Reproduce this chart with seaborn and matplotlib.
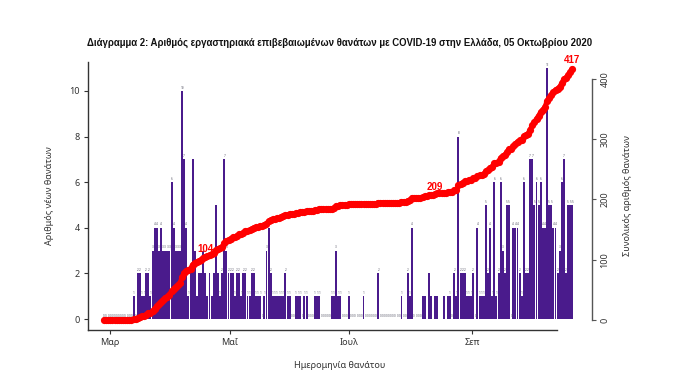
import numpy as np
import pandas as pd
import matplotlib
matplotlib.use("Agg")
import matplotlib.pyplot as plt
import seaborn as sns

# ---------------- data ----------------
start_date = "2020-02-26"
daily_deaths = [
    0, 0, 0, 0, 0, 0, 0, 0, 0, 0,
    0, 0, 0, 0, 1, 0, 2, 2, 1, 1,
    2, 2, 1, 3, 4, 4, 3, 4, 3, 3,
    3, 3, 6, 4, 3, 3, 3, 10, 7, 4,
    1, 2, 7, 3, 1, 2, 2, 3, 2, 1,
    2, 1, 2, 5, 2, 1, 2, 7, 3, 2,
    2, 2, 1, 2, 2, 1, 2, 2, 1, 1,
    2, 2, 1, 1, 1, 0, 1, 3, 4, 2,
    1, 1, 1, 1, 1, 1, 2, 1, 1, 0,
    0, 1, 1, 1, 0, 1, 1, 0, 0, 0,
    1, 1, 1, 0, 0, 0, 0, 0, 1, 1,
    3, 1, 1, 0, 0, 0, 1, 0, 0, 0,
    0, 0, 0, 1, 0, 0, 0, 0, 0, 0,
    2, 0, 0, 0, 0, 0, 0, 0, 0, 0,
    0, 1, 0, 0, 2, 1, 4, 0, 0, 0,
    0, 1, 1, 0, 2, 1, 0, 1, 1, 0,
    0, 1, 0, 1, 1, 0, 2, 1, 8, 2,
    2, 2, 1, 1, 1, 2, 0, 4, 1, 1,
    1, 5, 2, 4, 1, 6, 1, 2, 6, 3,
    2, 5, 5, 0, 4, 4, 4, 2, 1, 6,
    2, 2, 7, 7, 5, 6, 5, 6, 4, 4,
    11, 5, 5, 4, 4, 2, 3, 6, 7, 2,
    5, 5, 5,
]
month_labels = ["Μαρ", "Μαΐ", "Ιουλ", "Σεπ"]
month_tick_pos = [2.8, 59.7, 116.1, 174.4]
left_ticks = [0, 2, 4, 6, 8, 10]
right_ticks = [0, 100, 200, 300, 400]
marked_totals = [104, 209]

title = ("Διάγραμμα 2: Αριθμός εργαστηριακά επιβεβαιωμένων θανάτων "
         "με COVID-19 στην Ελλάδα, 05 Οκτωβρίου 2020")
xlabel = "Ημερομηνία θανάτου"
ylabel_left = "Αριθμός νέων θανάτων"
ylabel_right = "Συνολικός αριθμός θανάτων"

# ---------------- frame ----------------
df = pd.DataFrame({"day": np.arange(len(daily_deaths)),
                   "deaths": daily_deaths})
df["date"] = pd.date_range(start_date, periods=len(df), freq="D")
df["total"] = df["deaths"].cumsum()

sns.set_theme(style="white")
plt.rcParams["font.family"] = ["Noto Sans", "DejaVu Sans"]

BAR = "#4A1B8C"
RED = "#FF0000"
AX = "#333333"

fig = plt.figure(figsize=(6.8, 3.84), dpi=100)
ax = fig.add_axes([88 / 680, 1 - 330 / 384, (592 - 88) / 680, (330 - 62) / 384])

sns.barplot(data=df, x="day", y="deaths", native_scale=True, color=BAR,
            saturation=1, width=0.92, errorbar=None, linewidth=0,
            edgecolor="none", ax=ax)

# days whose big red label sits where a tiny value label would be
marked_days = [int(df.index[df["total"] >= v][0]) for v in marked_totals]
for d, v in zip(df["day"], df["deaths"]):
    if any(abs(d - m) <= 6 for m in marked_days):
        continue
    ax.text(d, v + 0.06, str(v), fontsize=2.2, ha="center", va="bottom",
            color="#555566")

ax.set_xlim(-7.6, 231.3)
ax.set_ylim(-0.48, 11.27)
ax.set_yticks(left_ticks)
ax.set_yticklabels([str(t) for t in left_ticks], fontsize=6.5, color=AX)
ax.set_xticks(month_tick_pos)
ax.set_xticklabels(month_labels, fontsize=6.5, color=AX)
ax.tick_params(axis="both", which="both", bottom=True, left=True,
               length=3, width=0.8, color=AX, pad=3)
ax.set_xlabel(xlabel, fontsize=6.5, color=AX, labelpad=10)
ax.set_ylabel(ylabel_left, fontsize=6.5, color=AX, labelpad=11)
for s in ["top", "right"]:
    ax.spines[s].set_visible(False)
for s in ["left", "bottom"]:
    ax.spines[s].set_color(AX)
    ax.spines[s].set_linewidth(1.0)
ax.spines["bottom"].set_bounds(-7.6, 214.7)

ax2 = ax.twinx()
sns.lineplot(data=df, x="day", y="total", ax=ax2, color=RED, linewidth=3.6,
             marker="o", markersize=5.2, markeredgewidth=0, zorder=5)
ax2.set_ylim(-16.6, 428.2)
ax2.set_yticks(right_ticks)
ax2.set_yticklabels([str(t) for t in right_ticks], fontsize=6.5, color=AX,
                    rotation=90, va="center")
ax2.tick_params(axis="y", right=True, length=3, width=0.8, color="#555555",
                pad=3)
ax2.set_ylabel(ylabel_right, fontsize=6.5, color=AX, labelpad=10)
for s in ["top", "left", "bottom"]:
    ax2.spines[s].set_visible(False)
ax2.spines["right"].set_color("#555555")
ax2.spines["right"].set_linewidth(1.0)
ax2.spines["right"].set_bounds(0, 400)

for val, d in zip(marked_totals, marked_days):
    ax2.text(d, df["total"][d] + 4, str(val), color=RED, fontsize=7,
             fontweight="bold", ha="center", va="bottom", zorder=6,
             family=["Liberation Sans", "DejaVu Sans"])
last = df.iloc[-1]
ax2.text(last["day"], last["total"] + 7, str(int(last["total"])), color=RED,
         fontsize=7, fontweight="bold", ha="center", va="bottom", zorder=6,
         family=["Liberation Sans", "DejaVu Sans"])

fig.text(0.5, 1 - 43 / 384, title, ha="center", va="center", fontsize=6.9,
         fontweight="bold", color="#111111",
         family=["Liberation Sans", "DejaVu Sans"])

fig.savefig("out.png", dpi=100, facecolor="white")
